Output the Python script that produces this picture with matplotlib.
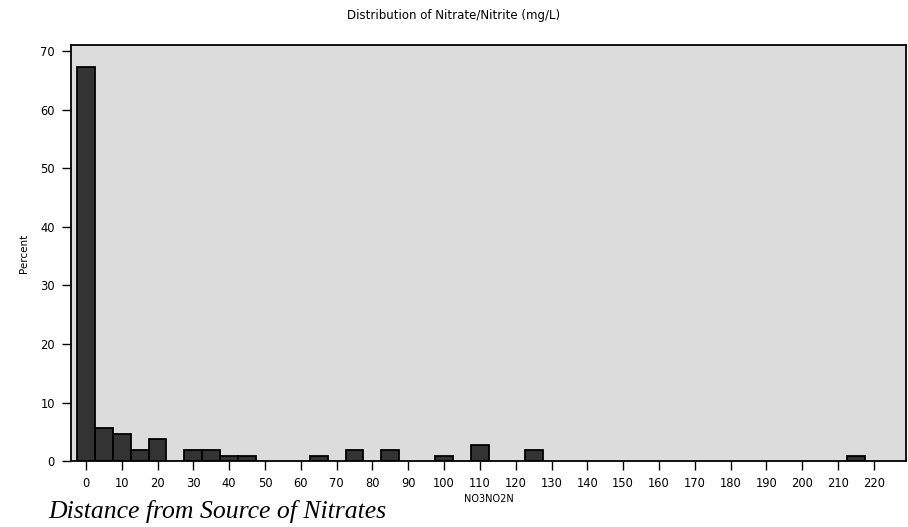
import matplotlib.pyplot as plt

# bin centres (mg/L) and percent of samples in each 5-wide bin
bin_centres = [0, 5, 10, 15, 20, 30, 35, 40, 45, 65, 75, 85, 100, 110, 125, 215]
percents = [67.3, 5.6, 4.7, 1.9, 3.7, 1.9, 1.9, 0.9, 0.9, 0.9, 1.9, 1.9, 0.9, 2.8, 1.9, 0.9]
x_ticks = list(range(0, 230, 10))
y_ticks = list(range(0, 80, 10))

plt.rcParams['font.family'] = ['DejaVu Sans']

fig = plt.figure(figsize=(9.08, 5.27), dpi=100)
ax = fig.add_axes([0.078, 0.1252, 0.92, 0.7894])
ax.set_facecolor('#dcdcdc')

ax.bar(bin_centres, percents, width=5, color='#333333', edgecolor='black', linewidth=1.3)

ax.set_xlim(-4.2, 229)
ax.set_ylim(0, 71.1)
ax.set_xticks(x_ticks)
ax.set_yticks(y_ticks)
ax.tick_params(labelsize=8.3, length=6.5, width=1, pad=5)
for s in ax.spines.values():
    s.set_linewidth(1.3)

ax.set_ylabel('Percent', fontsize=7.5, labelpad=8)
ax.set_xlabel('NO3NO2N', fontsize=7, labelpad=3)
fig.text(0.5, 0.97, 'Distribution of Nitrate/Nitrite (mg/L)', ha='center', va='center', fontsize=8.5)

fig.text(0.053, 0.03, 'Distance from Source of Nitrates', ha='left', va='center',
         fontsize=18.5, style='italic', family='Liberation Serif')

fig.savefig('out.png', dpi=100)
